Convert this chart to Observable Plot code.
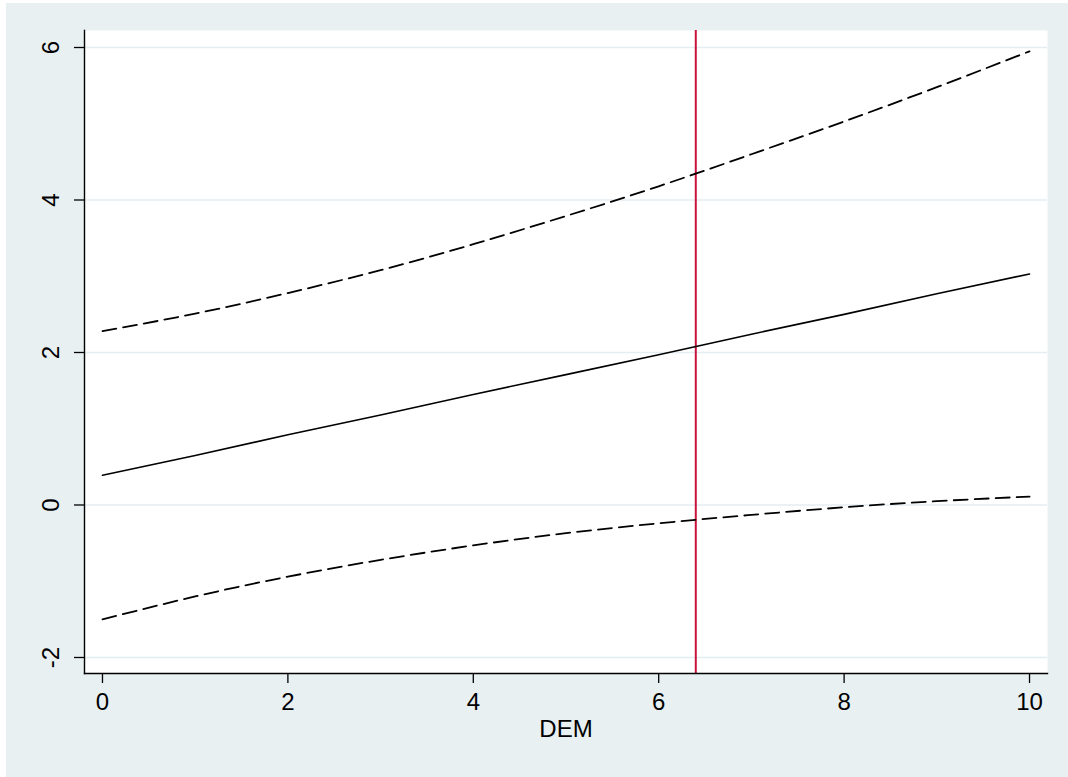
<!DOCTYPE html>
<html><head><meta charset="utf-8">
<script src="https://cdn.jsdelivr.net/npm/d3@7"></script>
<script src="https://cdn.jsdelivr.net/npm/@observablehq/plot@0.6"></script>
<style>
html,body{margin:0;padding:0;background:#fff;}
#chart{position:absolute;left:6px;top:3px;}
</style></head><body><div id="chart"></div>
<script>
const dem    = [0, 1, 2, 3, 4, 5, 6, 7, 8, 9, 10];
const effect = [0.39, 0.65, 0.92, 1.18, 1.45, 1.71, 1.97, 2.24, 2.50, 2.77, 3.03];
const upper  = [2.28, 2.51, 2.78, 3.08, 3.42, 3.79, 4.18, 4.60, 5.03, 5.48, 5.95];
const lower  = [-1.50, -1.20, -0.94, -0.72, -0.53, -0.37, -0.24, -0.13, -0.03, 0.05, 0.11];
const xTicks = [0, 2, 4, 6, 8, 10];
const yTicks = [-2, 0, 2, 4, 6];
const refLine = [6.4];
const xLabel = "DEM";

const rows = dem.map((d, i) => ({dem: d, effect: effect[i], upper: upper[i], lower: lower[i]}));

const xDom = [-0.194, 10.194];
const yDom = [-2.21, 6.223];
const font = "'Liberation Sans', Arial, Helvetica, sans-serif";

const chart = Plot.plot({
  width: 1062, height: 774,
  marginLeft: 78, marginTop: 27, marginRight: 21, marginBottom: 104,
  style: {background: "#e8f0f2", fontFamily: font, color: "#000", overflow: "visible"},
  x: {domain: xDom},
  y: {domain: yDom},
  marks: [
    Plot.frame({fill: "white", stroke: null}),
    Plot.gridY(yTicks, {stroke: "#e4edf0", strokeOpacity: 1, strokeWidth: 1.6}),
    Plot.ruleX(refLine, {stroke: "#c8143c", strokeWidth: 2}),
    Plot.line(rows, {x: "dem", y: "upper", stroke: "black", strokeWidth: 1.8, strokeDasharray: "14,7", curve: "natural"}),
    Plot.line(rows, {x: "dem", y: "lower", stroke: "black", strokeWidth: 1.8, strokeDasharray: "14,7", curve: "natural"}),
    Plot.line(rows, {x: "dem", y: "effect", stroke: "black", strokeWidth: 1.6}),
    Plot.frame({anchor: "left", stroke: "black", strokeWidth: 1.4}),
    Plot.frame({anchor: "bottom", stroke: "black", strokeWidth: 1.4}),
    Plot.axisX(xTicks, {tickSize: 10, tickPadding: 9, fontSize: 24, label: null, tickFormat: d => String(d), stroke: "black", strokeWidth: 1.3}),
    Plot.axisY(yTicks, {tickSize: 10, tickFormat: () => "", label: null, stroke: "black", strokeWidth: 1.3}),
    Plot.text(yTicks, {x: () => xDom[0], y: d => d, text: d => String(d), rotate: -90, dx: -33, fontSize: 24, textAnchor: "middle", lineAnchor: "middle", fill: "black"}),
    Plot.text([xLabel], {frameAnchor: "bottom", dy: 56, fontSize: 24, lineAnchor: "middle", fill: "black"})
  ]
});
document.getElementById("chart").appendChild(chart);
</script>
</body></html>
